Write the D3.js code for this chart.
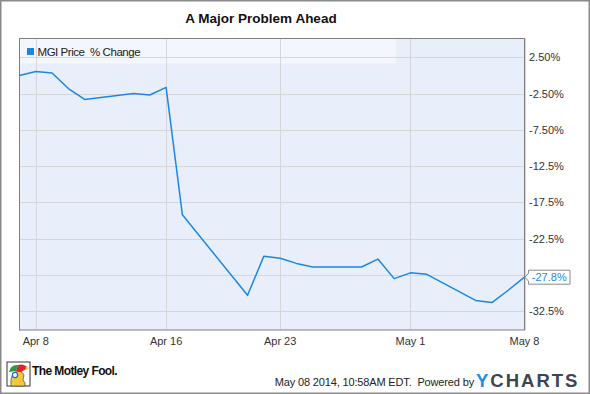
<!doctype html>
<html>
<head>
<meta charset="utf-8">
<title>A Major Problem Ahead</title>
<script src="https://d3js.org/d3.v7.min.js"></script>
<style>
  body { margin: 0; background: #fff; }
  svg text { font-family: "Liberation Sans", Arial, sans-serif; }
</style>
</head>
<body>
<svg id="chart"></svg>
<script>
// MGI Price % change, trading days
var dates = ["2014-04-07", "2014-04-08", "2014-04-09", "2014-04-10", "2014-04-11",
             "2014-04-14", "2014-04-15", "2014-04-16", "2014-04-17", "2014-04-21",
             "2014-04-22", "2014-04-23", "2014-04-24", "2014-04-25", "2014-04-28",
             "2014-04-29", "2014-04-30", "2014-05-01", "2014-05-02", "2014-05-05",
             "2014-05-06", "2014-05-07", "2014-05-08"];
var changes = [0.0, 0.55, 0.33, -1.8, -3.3,
               -2.5, -2.7, -1.65, -19.2, -30.3,
               -24.9, -25.2, -25.9, -26.4, -26.4,
               -25.3, -28.0, -27.2, -27.4, -31.0,
               -31.3, -29.6, -27.8];
var yTicks = [2.5, -2.5, -7.5, -12.5, -17.5, -22.5, -27.5, -32.5];
var yTickLabels = ["2.50%", "-2.50%", "-7.50%", "-12.5%", "-17.5%", "-22.5%", "-27.5%", "-32.5%"];
var xTicks = ["2014-04-08", "2014-04-16", "2014-04-23", "2014-05-01", "2014-05-08"];
var xTickLabels = ["Apr 8", "Apr 16", "Apr 23", "May 1", "May 8"];
var seriesName = "MGI Price  % Change";
var lastLabel = "-27.8%";

var W = 590, H = 394;
var plot = { left: 19.5, top: 38.5, right: 524.5, bottom: 330 };
var parse = d3.timeParse("%Y-%m-%d");
var blue = "#1b87e5";

var svg = d3.select("#chart").attr("width", W).attr("height", H);

// outer frame
svg.append("rect").attr("x", 0.75).attr("y", 0.75).attr("width", W - 1.5).attr("height", H - 1.5)
    .attr("fill", "#fff").attr("stroke", "#8a8a8a").attr("stroke-width", 1.5);

svg.append("text").attr("x", 261).attr("y", 23).attr("text-anchor", "middle")
    .attr("font-size", 13.5).attr("font-weight", "bold").attr("fill", "#111")
    .text("A Major Problem Ahead");

var x = d3.scaleTime().domain([parse("2014-04-07"), parse("2014-05-08")]).range([plot.left, plot.right]);
var y = d3.scaleLinear().domain([2.5, -32.5]).range([57.3, 311.3]);

svg.append("rect").attr("x", plot.left).attr("y", plot.top)
    .attr("width", plot.right - plot.left).attr("height", plot.bottom - plot.top)
    .attr("fill", "#e9effa");

// legend band
svg.append("rect").attr("x", plot.left).attr("y", plot.top)
    .attr("width", 396 - plot.left).attr("height", 63.5 - plot.top)
    .attr("fill", "#f3f6fd");

// grid
svg.append("g").selectAll("line").data(yTicks).join("line")
    .attr("x1", plot.left).attr("x2", plot.right)
    .attr("y1", d => Math.round(y(d)) + 0.5).attr("y2", d => Math.round(y(d)) + 0.5)
    .attr("stroke", "#d4d6da").attr("stroke-width", 1);
svg.append("g").selectAll("line").data(xTicks).join("line")
    .attr("x1", d => Math.round(x(parse(d))) + 0.5).attr("x2", d => Math.round(x(parse(d))) + 0.5)
    .attr("y1", plot.top).attr("y2", plot.bottom)
    .attr("stroke", "#d4d6da").attr("stroke-width", 1);

// plot border
svg.append("rect").attr("x", plot.left).attr("y", plot.top)
    .attr("width", plot.right - plot.left).attr("height", plot.bottom - plot.top)
    .attr("fill", "none").attr("stroke", "#7f7f7f").attr("stroke-width", 1);

// legend
svg.append("rect").attr("x", 27).attr("y", 48).attr("width", 7).attr("height", 7).attr("fill", blue);
svg.append("text").attr("x", 37.5).attr("y", 56).attr("font-size", 11.5).attr("fill", "#222")
    .attr("letter-spacing", -0.45)
    .attr("xml:space", "preserve").style("white-space", "pre").text(seriesName);

// last value position, tick labels hidden under the flag are skipped
var ly = y(changes[changes.length - 1]);

svg.append("g").selectAll("text")
    .data(yTicks.filter(d => Math.abs(y(d) - ly) > 10)).join("text")
    .attr("x", 529).attr("y", d => y(d) + 4)
    .attr("font-size", 11).attr("fill", "#333")
    .text(d => yTickLabels[yTicks.indexOf(d)]);

// x axis labels
svg.append("g").selectAll("text").data(xTicks).join("text")
    .attr("x", d => x(parse(d))).attr("y", 345).attr("text-anchor", "middle")
    .attr("font-size", 11).attr("fill", "#333")
    .text((d, i) => xTickLabels[i]);

// line
var pts = dates.map((d, i) => [parse(d), changes[i]]);
svg.append("path").datum(pts)
    .attr("d", d3.line().x(d => x(d[0])).y(d => y(d[1])))
    .attr("fill", "none").attr("stroke", blue).attr("stroke-width", 1.5)
    .attr("stroke-linejoin", "round");

// last value flag
var bx = 528.5, bw = 41.5, bh = 14;
svg.append("path")
    .attr("d", "M" + (plot.right + 0.5) + "," + ly + " L" + bx + "," + (ly - 4) + " L" + bx + "," + (ly - bh / 2) +
        " L" + (bx + bw) + "," + (ly - bh / 2) + " L" + (bx + bw) + "," + (ly + bh / 2) +
        " L" + bx + "," + (ly + bh / 2) + " L" + bx + "," + (ly + 4) + "Z")
    .attr("fill", "#fff").attr("stroke", "#8a8a8a").attr("stroke-width", 1);
svg.append("text").attr("x", bx + bw / 2).attr("y", ly + 4).attr("text-anchor", "middle")
    .attr("font-size", 11).attr("fill", blue).text(lastLabel);

// footer: Motley Fool mark
var logo = svg.append("g").attr("transform", "translate(7,362)");
logo.append("rect").attr("width", 23).attr("height", 24).attr("fill", "#fff").attr("stroke", "#333").attr("stroke-width", 1);
logo.append("path").attr("d", "M2,10 Q4,2 11,3 L9,9 Z").attr("fill", "#2e9a3a");
logo.append("path").attr("d", "M9,9 L11,3 Q17,1 21,6 L14,10 Z").attr("fill", "#d8282c");
logo.append("path").attr("d", "M4,24 Q3,13 8,10 Q15,8 17,13 L16,18 Q19,21 18,24 Z").attr("fill", "#f4c63a").attr("stroke", "#333").attr("stroke-width", 0.6);
logo.append("circle").attr("cx", 8).attr("cy", 13).attr("r", 2.6).attr("fill", "#fff").attr("stroke", "#1a6fc9").attr("stroke-width", 1.2);
logo.append("circle").attr("cx", 20).attr("cy", 6).attr("r", 1.5).attr("fill", "#f4c63a");
svg.append("text").attr("x", 32).attr("y", 375).attr("font-size", 12).attr("font-weight", "bold")
    .attr("letter-spacing", -0.6).attr("fill", "#111").text("The Motley Fool.");

// footer: timestamp + ycharts
svg.append("text").attr("x", 474).attr("y", 385.5).attr("text-anchor", "end")
    .attr("font-size", 11).attr("letter-spacing", -0.15).attr("fill", "#222")
    .attr("xml:space", "preserve").style("white-space", "pre")
    .text("May 08 2014, 10:58AM EDT.  Powered by");
var yc = svg.append("text").attr("x", 476).attr("y", 387).attr("font-size", 18.5).attr("font-weight", "bold")
    .attr("letter-spacing", 2);
yc.append("tspan").attr("fill", "#1e8fe0").text("Y");
yc.append("tspan").attr("fill", "#3b4652").text("CHARTS");
</script>
</body>
</html>
